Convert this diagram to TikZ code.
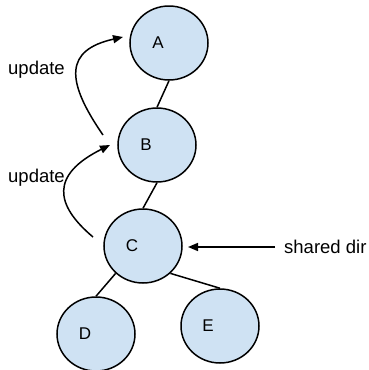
\documentclass[tikz,border=0pt]{standalone}
\usepackage{fontspec}
\setmainfont{Liberation Sans}
\usetikzlibrary{shapes.geometric,arrows.meta}
\definecolor{nodefill}{RGB}{207,226,243}
\begin{document}
\begin{tikzpicture}[x=1pt,y=-1pt,
  treenode/.style={ellipse,draw=black,fill=nodefill,line width=1.5pt,
    minimum width=78pt,minimum height=74pt,inner sep=0pt},
  letter/.style={font=\fontsize{17}{20}\selectfont,text=black,inner sep=0pt},
  lbl/.style={font=\fontsize{18.5}{22}\selectfont,text=black,inner sep=0pt},
  edge/.style={line width=1.5pt,draw=black},
  arr/.style={line width=1.5pt,draw=black,-{Triangle[length=10pt,width=8pt]}}]
\useasboundingbox (0,0) rectangle (368,370);
\node[treenode,label={[letter,xshift=-11pt]center:A}] (A) at (169,43) {};
\node[treenode,label={[letter,xshift=-11pt]center:B}] (B) at (157,145) {};
\node[treenode,label={[letter,xshift=-11pt]center:C}] (C) at (143,246) {};
\node[treenode,label={[letter,xshift=-11pt]center:D}] (D) at (96,334) {};
\node[treenode,label={[letter,xshift=-12pt]center:E}] (E) at (220,326) {};
\draw[edge] (A.south) -- (B.north);
\draw[edge] (B.south) -- (C.north);
\draw[edge] (C.225) -- (D.north);
\draw[edge] (C.-45) -- (E.north);
\node[lbl,anchor=west] (u1) at (8,70) {update};
\node[lbl,anchor=west] (u2) at (8,178) {update};
\node[lbl,anchor=west] (sd) at (284,247) {shared dir};
\coordinate (s1) at (103,135);
\coordinate (e1) at (123,37);
\coordinate (s2) at (93,237);
\coordinate (e2) at (110,145);
\coordinate (s3) at (275,247);
\coordinate (e3) at (188,247);
\draw[arr] (s1) .. controls (65,80) and (65,50) .. (e1);
\draw[arr] (s2) .. controls (55,205) and (50,175) .. (e2);
\draw[arr] (s3) -- (e3);
\end{tikzpicture}
\end{document}
